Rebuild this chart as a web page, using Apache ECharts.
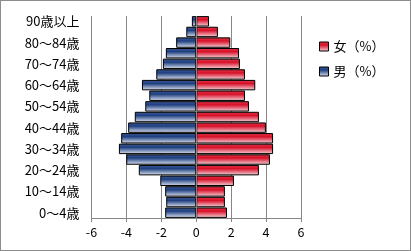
<!DOCTYPE html>
<html><head><meta charset="utf-8">
<script src="https://cdn.jsdelivr.net/npm/echarts@6/dist/echarts.min.js"></script>
<style>html,body{margin:0;padding:0;background:#fff}
#wrap{width:411px;height:251px;box-sizing:border-box;border:1px solid #8c8c8c;position:relative}
#c{position:absolute;left:-1px;top:-1px;width:411px;height:251px}</style>
</head><body><div id="wrap"><div id="c"></div></div>
<script>
const categories = ['0～4歳','5～9歳','10～14歳','15～19歳','20～24歳','25～29歳','30～34歳','35～39歳','40～44歳','45～49歳','50～54歳','55～59歳','60～64歳','65～69歳','70～74歳','75～79歳','80～84歳','85～89歳','90歳以上'];
const male = [-1.78,-1.72,-1.78,-2.06,-3.29,-4.01,-4.43,-4.30,-3.90,-3.52,-2.92,-2.69,-3.11,-2.29,-1.91,-1.74,-1.15,-0.57,-0.25];
const female = [1.76,1.64,1.64,2.16,3.59,4.22,4.40,4.40,3.99,3.59,3.02,2.79,3.38,2.79,2.50,2.45,1.95,1.24,0.73];
const xTicks = {min:-6, max:6, interval:2};
const femaleName = '女（%）', maleName = '男（%）';

const font = '"Noto Sans CJK JP","Noto Sans",sans-serif';
const blueGrad = new echarts.graphic.LinearGradient(0,0,0,1,[{offset:0,color:'#3f5c98'},{offset:0.35,color:'#1f3f80'},{offset:1,color:'#e2e8f3'}]);
const redGrad = new echarts.graphic.LinearGradient(0,0,0,1,[{offset:0,color:'#e23a48'},{offset:0.35,color:'#d8102a'},{offset:1,color:'#f4dade'}]);
const chart = echarts.init(document.getElementById('c'));
chart.setOption({
  animation:false,
  textStyle:{fontFamily:font},
  grid:{left:91.5,right:110,top:16,bottom:33,containLabel:false},
  legend:{orient:'vertical',left:314,top:35,itemWidth:9,itemHeight:9,itemGap:12,icon:'rect',
    data:[femaleName,maleName],
    textStyle:{fontSize:13,color:'#000',fontFamily:font},
    itemStyle:{borderColor:'#000',borderWidth:1}},
  xAxis:{type:'value',min:xTicks.min,max:xTicks.max,interval:xTicks.interval,
    axisLine:{show:true,onZero:false,lineStyle:{color:'#868686'}},
    axisTick:{show:true,length:4,lineStyle:{color:'#868686'}},
    axisLabel:{color:'#000',fontSize:12.5,margin:8,fontFamily:font},
    splitLine:{show:true,lineStyle:{color:'#868686',width:1}}},
  yAxis:{type:'category',data:categories,
    axisLine:{show:false,onZero:false},axisTick:{show:false},
    axisLabel:{interval:1,color:'#000',fontSize:13,margin:12,fontFamily:font}},
  series:[
    {name:maleName,type:'bar',data:male,barGap:'-100%',barCategoryGap:'2%',
     itemStyle:{color:blueGrad,borderColor:'#000',borderWidth:1}},
    {name:femaleName,type:'bar',data:female,barGap:'-100%',barCategoryGap:'2%',
     itemStyle:{color:redGrad,borderColor:'#000',borderWidth:1},
     markLine:{silent:true,symbol:'none',label:{show:false},lineStyle:{color:'#868686',type:'solid',width:1},data:[{xAxis:0}]}}
  ]
});
</script></body></html>
